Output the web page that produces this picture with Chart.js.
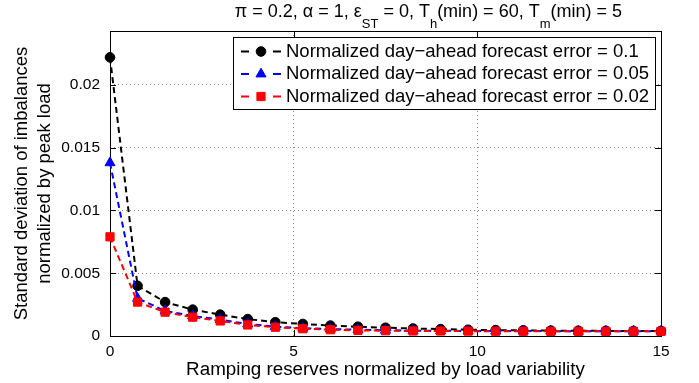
<!DOCTYPE html>
<html>
<head>
<meta charset="utf-8">
<script src="https://cdn.jsdelivr.net/npm/chart.js@4/dist/chart.umd.min.js"></script>
<style>
  html, body { margin: 0; padding: 0; background: #fff; }
  #wrap { width: 699px; height: 383px; }
</style>
</head>
<body>
<div id="wrap"><canvas id="chart" width="699" height="383"></canvas></div>
<script>
// ── data ──
const reserves = [0, 0.75, 1.5, 2.25, 3, 3.75, 4.5, 5.25, 6, 6.75, 7.5,
  8.25, 9, 9.75, 10.5, 11.25, 12, 12.75, 13.5, 14.25, 15];
const err010 = [0.0222, 0.0040, 0.0027, 0.0021, 0.0017, 0.00135, 0.0011, 0.00096, 0.00083, 0.00074, 0.00066,
  0.0006, 0.00055, 0.0005, 0.00047, 0.00045, 0.00043, 0.00042, 0.00041, 0.0004, 0.0004];
const err005 = [0.0138, 0.0030, 0.0020, 0.0016, 0.0013, 0.00095, 0.00075, 0.00062, 0.00055, 0.0005, 0.00046,
  0.00043, 0.00042, 0.0004, 0.0004, 0.00039, 0.00039, 0.00038, 0.00038, 0.00038, 0.00038];
const err002 = [0.0079, 0.0027, 0.0019, 0.0015, 0.0012, 0.00088, 0.0007, 0.00058, 0.0005, 0.00045, 0.00042,
  0.0004, 0.0004, 0.00039, 0.00038, 0.00038, 0.00037, 0.00037, 0.00037, 0.00037, 0.00037];
const seriesLabels = [
  'Normalized day\u2212ahead forecast error = 0.1',
  'Normalized day\u2212ahead forecast error = 0.05',
  'Normalized day\u2212ahead forecast error = 0.02'
];
const xTicks = [0, 5, 10, 15];
const yTicks = [0, 0.005, 0.01, 0.015, 0.02];
const yMax = 0.0243;

const FONT = "'Liberation Sans', Arial, Helvetica, sans-serif";

const toPoints = arr => arr.map((v, i) => ({ x: reserves[i], y: v }));

// ─────────────────────────────
// box + inward ticks
// ─────────────────────────────
const axesBox = {
  id: 'axesBox',
  beforeDatasetsDraw(chart) {
    const { ctx, chartArea: a, scales: { x, y } } = chart;
    ctx.save();
    ctx.strokeStyle = '#000';
    ctx.lineWidth = 1;
    ctx.strokeRect(Math.round(a.left) + 0.5, Math.round(a.top) + 0.5,
      Math.round(a.right - a.left), Math.round(a.bottom - a.top));
    const tl = 6;
    ctx.beginPath();
    xTicks.forEach(v => {
      const px = Math.round(x.getPixelForValue(v)) + 0.5;
      ctx.moveTo(px, a.bottom); ctx.lineTo(px, a.bottom - tl);
      ctx.moveTo(px, a.top); ctx.lineTo(px, a.top + tl);
    });
    yTicks.forEach(v => {
      const py = Math.round(y.getPixelForValue(v)) + 0.5;
      ctx.moveTo(a.left, py); ctx.lineTo(a.left + tl, py);
      ctx.moveTo(a.right, py); ctx.lineTo(a.right - tl, py);
    });
    ctx.stroke();
    ctx.restore();
  }
};

// ─────────────────────────────
// legend box (matlab style)
// ─────────────────────────────
const legendBox = {
  id: 'legendBox',
  afterDraw(chart) {
    const { ctx } = chart;
    const box = { l: 233.5, t: 37.5, r: 655.5, b: 109.5 };
    const rows = [51.5, 74, 96.5];
    ctx.save();
    ctx.fillStyle = '#fff';
    ctx.fillRect(box.l, box.t, box.r - box.l, box.b - box.t);
    ctx.strokeStyle = '#000';
    ctx.lineWidth = 1;
    ctx.strokeRect(box.l, box.t, box.r - box.l, box.b - box.t);
    chart.data.datasets.forEach((ds, i) => {
      const yy = rows[i];
      ctx.strokeStyle = ds.borderColor;
      ctx.lineWidth = 2;
      ctx.beginPath();
      ctx.moveTo(241, yy); ctx.lineTo(249, yy);
      ctx.moveTo(273, yy); ctx.lineTo(281, yy);
      ctx.stroke();
      ctx.fillStyle = ds.pointBackgroundColor;
      ctx.strokeStyle = ds.pointBorderColor;
      ctx.lineWidth = 1;
      Chart.helpers.drawPoint(ctx, { pointStyle: ds.pointStyle, radius: ds.pointRadius, rotation: 0, borderWidth: 1 }, 261, yy);
      ctx.fillStyle = '#000';
      ctx.font = '18.5px ' + FONT;
      ctx.textBaseline = 'middle';
      ctx.textAlign = 'left';
      ctx.fillText(ds.label, 286, yy);
    });
    ctx.restore();
  }
};

// ─────────────────────────────
// parameter title with subscripts (right end at x=622)
// ─────────────────────────────
const paramTitle = {
  id: 'paramTitle',
  afterDraw(chart) {
    const { ctx } = chart;
    const parts = [
      ['\u03c0 = 0.2, \u03b1 = 1, \u03b5', 0], ['ST', 1], [' = 0, T', 0], ['h', 1],
      ['(min) = 60, T', 0], ['m', 1], ['(min) = 5', 0]
    ];
    const mainFont = '18px ' + FONT, subFont = '13px ' + FONT;
    ctx.save();
    let total = 0;
    parts.forEach(([txt, sub]) => {
      ctx.font = sub ? subFont : mainFont;
      total += ctx.measureText(txt).width;
    });
    let x = 622 - total;
    const base = 17;
    ctx.fillStyle = '#000';
    ctx.textBaseline = 'alphabetic';
    ctx.textAlign = 'left';
    parts.forEach(([txt, sub]) => {
      ctx.font = sub ? subFont : mainFont;
      ctx.fillText(txt, x, sub ? base + 11 : base);
      x += ctx.measureText(txt).width;
    });
    ctx.restore();
  }
};

new Chart(document.getElementById('chart'), {
  type: 'line',
  data: {
    datasets: [
      {
        label: seriesLabels[0], data: toPoints(err010),
        borderColor: '#000', backgroundColor: '#000',
        pointBackgroundColor: '#000', pointBorderColor: '#000',
        pointStyle: 'circle', pointRadius: 4.8, order: 2
      },
      {
        label: seriesLabels[1], data: toPoints(err005),
        borderColor: '#0000ff', backgroundColor: '#0000ff',
        pointBackgroundColor: '#0000ff', pointBorderColor: '#0000ff',
        pointStyle: 'triangle', pointRadius: 5.8, order: 1
      },
      {
        label: seriesLabels[2], data: toPoints(err002),
        borderColor: '#ff0000', backgroundColor: '#ff0000',
        pointBackgroundColor: '#ff0000', pointBorderColor: '#ff0000',
        pointStyle: 'rect', pointRadius: 5.8, order: 0
      }
    ].map(d => Object.assign(d, {
      borderWidth: 2, borderDash: [6, 4], pointBorderWidth: 1,
      tension: 0, fill: false, clip: false
    }))
  },
  options: {
    responsive: false,
    animation: false,
    layout: { padding: { top: 31, right: 38, left: 0, bottom: 0 } },
    plugins: { legend: { display: false }, tooltip: { enabled: false } },
    scales: {
      x: {
        type: 'linear', min: 0, max: 15,
        afterFit: s => { s.height = 47; },
        afterBuildTicks: s => { s.ticks = xTicks.map(v => ({ value: v })); },
        grid: { color: '#8c8c8c', lineWidth: 1, drawTicks: false },
        border: { display: false, dash: [1, 3] },
        ticks: { padding: 6, color: '#000', font: { family: FONT, size: 15.5 }, maxRotation: 0,
          callback: v => String(v) },
        title: { display: true, text: 'Ramping reserves normalized by load variability',
          color: '#000', font: { family: FONT, size: 18.8, lineHeight: 1.2 }, padding: { top: 0, bottom: 2 } }
      },
      y: {
        type: 'linear', min: 0, max: yMax,
        afterFit: s => { s.width = 110; },
        afterBuildTicks: s => { s.ticks = yTicks.map(v => ({ value: v })); },
        grid: { color: '#8c8c8c', lineWidth: 1, drawTicks: false },
        border: { display: false, dash: [1, 3] },
        ticks: { padding: 10, color: '#000', font: { family: FONT, size: 15.5 },
          callback: v => String(v) },
        title: { display: true, text: ['Standard deviation of imbalances', 'normalized by peak load'],
          color: '#000', font: { family: FONT, size: 18.5, lineHeight: 1.25 }, padding: { top: 10, bottom: 0 } }
      }
    }
  },
  plugins: [axesBox, legendBox, paramTitle]
});
</script>
</body>
</html>
